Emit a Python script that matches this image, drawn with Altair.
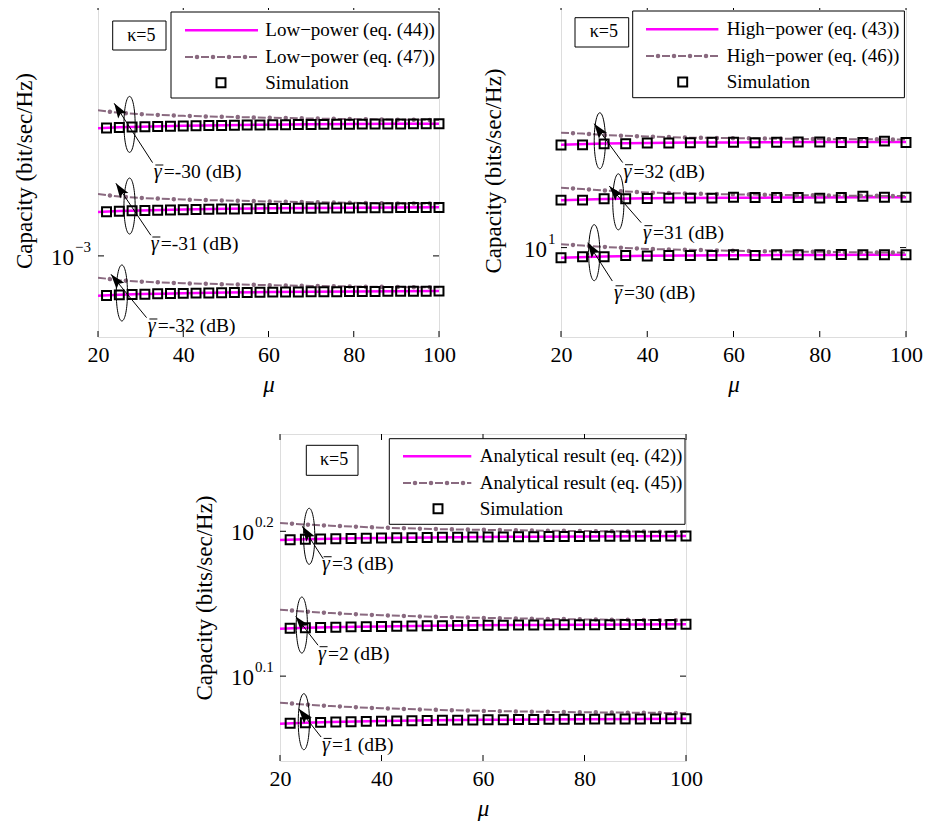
import altair as alt
import pandas as pd

FONT = "Liberation Serif"
MAG = "#ff00ff"
DD = "#8a6a80"

# ---------------- Panel 1: low-power regime (values in units of 1e-3 bit/sec/Hz) ----------------
p1_mu_line = [20, 25, 30, 35, 40, 50, 60, 70, 80, 90, 100]
p1_eq44_m30 = [1.4207, 1.4243, 1.4268, 1.4286, 1.4302, 1.4331, 1.4350, 1.4363, 1.4374, 1.4381, 1.4390]
p1_eq44_m31 = [1.1285, 1.1313, 1.1333, 1.1348, 1.1360, 1.1383, 1.1398, 1.1408, 1.1417, 1.1423, 1.1430]
p1_eq44_m32 = [0.8964, 0.8986, 0.9002, 0.9014, 0.9024, 0.9042, 0.9054, 0.9062, 0.9069, 0.9074, 0.9079]
p1_eq47_m30 = [1.4929, 1.4823, 1.4767, 1.4733, 1.4701, 1.4662, 1.4626, 1.4594, 1.4570, 1.4548, 1.4537]
p1_eq47_m31 = [1.1858, 1.1774, 1.1729, 1.1702, 1.1677, 1.1646, 1.1617, 1.1592, 1.1573, 1.1555, 1.1547]
p1_eq47_m32 = [0.9419, 0.9352, 0.9317, 0.9295, 0.9275, 0.9250, 0.9227, 0.9208, 0.9193, 0.9178, 0.9172]
p1_mu_sim = [22, 25, 28, 31, 34, 37, 40, 43, 46, 49, 52, 55, 58, 61, 64, 67, 70, 73, 76, 79, 82, 85, 88, 91, 94, 97, 100]
p1_sim_m30 = [1.4217, 1.4238, 1.4254, 1.4267, 1.4279, 1.4289, 1.4297, 1.4306, 1.4313, 1.4320, 1.4327, 1.4333, 1.4339, 1.4345,
              1.4349, 1.4353, 1.4358, 1.4361, 1.4365, 1.4368, 1.4371, 1.4374, 1.4375, 1.4378, 1.4381, 1.4382, 1.4385]
p1_sim_m31 = [1.1292, 1.1309, 1.1322, 1.1332, 1.1341, 1.1349, 1.1356, 1.1363, 1.1369, 1.1375, 1.1380, 1.1385, 1.1389, 1.1394,
              1.1397, 1.1401, 1.1404, 1.1407, 1.1410, 1.1412, 1.1415, 1.1417, 1.1418, 1.1420, 1.1423, 1.1424, 1.1426]
p1_sim_m32 = [0.8970, 0.8983, 0.8993, 0.9001, 0.9009, 0.9015, 0.9021, 0.9026, 0.9031, 0.9035, 0.9040, 0.9043, 0.9047, 0.9051,
              0.9053, 0.9056, 0.9059, 0.9061, 0.9063, 0.9065, 0.9067, 0.9069, 0.9070, 0.9071, 0.9073, 0.9074, 0.9076]
p1_unit = 1e-3

# ---------------- Panel 2: high-power regime (bits/sec/Hz) ----------------
p2_mu_line = [20, 30, 40, 50, 60, 70, 80, 90, 100]
p2_eq43_30 = [9.942, 9.949, 9.953, 9.955, 9.956, 9.957, 9.958, 9.9585, 9.959]
p2_eq43_31 = [10.276, 10.283, 10.287, 10.289, 10.290, 10.291, 10.292, 10.2925, 10.293]
p2_eq43_32 = [10.608, 10.615, 10.619, 10.621, 10.622, 10.623, 10.624, 10.6245, 10.625]
p2_mu_dd = [20, 25, 30, 40, 50, 60, 70, 80, 90, 100]
p2_eq46_30 = [10.019, 10.012, 10.004, 9.992, 9.987, 9.982, 9.978, 9.976, 9.973, 9.971]
p2_eq46_31 = [10.349, 10.342, 10.333, 10.321, 10.315, 10.310, 10.307, 10.304, 10.302, 10.300]
p2_eq46_32 = [10.681, 10.676, 10.667, 10.658, 10.651, 10.648, 10.645, 10.642, 10.641, 10.640]
p2_mu_sim = [20, 25, 30, 35, 40, 45, 50, 55, 60, 65, 70, 75, 80, 85, 90, 95, 100]
p2_sim_30 = [9.942, 9.948, 9.948, 9.955, 9.952, 9.955, 9.955, 9.955, 9.959, 9.955, 9.959, 9.959, 9.959, 9.961, 9.959, 9.959, 9.959]
p2_sim_31 = [10.276, 10.276, 10.284, 10.284, 10.286, 10.288, 10.288, 10.288, 10.293, 10.292, 10.292, 10.292, 10.288, 10.292,
             10.299, 10.293, 10.293]
p2_sim_32 = [10.606, 10.607, 10.613, 10.614, 10.619, 10.619, 10.620, 10.623, 10.623, 10.620, 10.623, 10.624, 10.624, 10.621,
             10.621, 10.630, 10.622]

# ---------------- Panel 3: analytical (bits/sec/Hz) ----------------
p3_mu_line = [20, 25, 30, 35, 40, 50, 60, 70, 80, 90, 100]
p3_eq42_3 = [1.5629, 1.5649, 1.5662, 1.5672, 1.5681, 1.5696, 1.5707, 1.5714, 1.5720, 1.5725, 1.5729]
p3_eq42_2 = [1.3575, 1.3594, 1.3606, 1.3616, 1.3624, 1.3639, 1.3649, 1.3656, 1.3661, 1.3666, 1.3670]
p3_eq42_1 = [1.1671, 1.1690, 1.1702, 1.1711, 1.1720, 1.1734, 1.1744, 1.1751, 1.1757, 1.1761, 1.1765]
p3_eq45_3 = [1.6059, 1.6020, 1.5990, 1.5964, 1.5941, 1.5906, 1.5885, 1.5868, 1.5855, 1.5843, 1.5831]
p3_eq45_2 = [1.3990, 1.3950, 1.3916, 1.3890, 1.3868, 1.3835, 1.3810, 1.3793, 1.3777, 1.3766, 1.3756]
p3_eq45_1 = [1.2067, 1.2033, 1.2004, 1.1981, 1.1962, 1.1933, 1.1912, 1.1897, 1.1886, 1.1878, 1.1870]
p3_mu_sim = [22, 25, 28, 31, 34, 37, 40, 43, 46, 49, 52, 55, 58, 61, 64, 67, 70, 73, 76, 79, 82, 85, 88, 91, 94, 97, 100]
p3_sim_3 = [1.5638, 1.5649, 1.5657, 1.5664, 1.5670, 1.5676, 1.5681, 1.5686, 1.5690, 1.5694, 1.5698, 1.5701, 1.5704, 1.5707,
            1.5709, 1.5712, 1.5714, 1.5716, 1.5718, 1.5719, 1.5721, 1.5722, 1.5724, 1.5725, 1.5726, 1.5728, 1.5729]
p3_sim_2 = [1.3584, 1.3594, 1.3602, 1.3608, 1.3614, 1.3620, 1.3624, 1.3629, 1.3633, 1.3637, 1.3641, 1.3643, 1.3646, 1.3649,
            1.3651, 1.3654, 1.3656, 1.3658, 1.3660, 1.3661, 1.3662, 1.3663, 1.3665, 1.3666, 1.3667, 1.3669, 1.3670]
p3_sim_1 = [1.1679, 1.1690, 1.1697, 1.1704, 1.1710, 1.1715, 1.1720, 1.1725, 1.1728, 1.1732, 1.1736, 1.1739, 1.1742, 1.1744,
            1.1746, 1.1749, 1.1751, 1.1753, 1.1755, 1.1756, 1.1757, 1.1758, 1.1760, 1.1761, 1.1762, 1.1764, 1.1765]

# ---------------- Annotations (data coordinates) ----------------
p1_ann_label = ["=-30 (dB)", "=-31 (dB)", "=-32 (dB)"]
p1_ell = ([27.4, 27.4, 25.6], [1.436, 1.147, 0.903])
p1_tip = ([23.8, 24.2, 23.05], [1.5218, 1.2211, 0.9506])
p1_tail = ([32.8, 32.4, 31.4], [1.2926, 1.0584, 0.8437])
p1_txt = ([33.1, 32.4, 31.7], [1.2597, 1.0333, 0.8246])
p1_ang = [327, 326, 321]

p2_ann_label = ["=32 (dB)", "=31 (dB)", "=30 (dB)"]
p2_ell = ([29.0, 33.3, 27.7], [10.632, 10.266, 9.971])
p2_tip = ([27.7, 31.2, 26.2], [10.737, 10.359, 10.028])
p2_tail = ([34.3, 38.6, 31.9], [10.500, 10.144, 9.810])
p2_txt = ([34.5, 39.0, 32.3], [10.445, 10.086, 9.744])
p2_ang = [324, 319, 327]

p3_ann_label = ["=3 (dB)", "=2 (dB)", "=1 (dB)"]
p3_ell = ([25.75, 24.3, 24.7], [1.5723, 1.3654, 1.1709])
p3_tip = ([24.4, 23.1, 23.7], [1.5974, 1.3843, 1.1952])
p3_tail = ([28.5, 27.5, 28.1], [1.5172, 1.3222, 1.1427])
p3_txt = ([28.3, 27.5, 28.3], [1.5052, 1.3046, 1.1276])
p3_ang = [327, 322, 322]

p1_legend = ["Low\u2212power (eq. (44))", "Low\u2212power (eq. (47))", "Simulation"]
p2_legend = ["High\u2212power (eq. (43))", "High\u2212power (eq. (46))", "Simulation"]
p3_legend = ["Analytical result (eq. (42))", "Analytical result (eq. (45))", "Simulation"]

x_ticks = [20, 40, 60, 80, 100]

ELLIPSE = "M 0 -1 A 0.2 1 0 1 1 0 1 A 0.2 1 0 1 1 0 -1 Z"
ARROW = "M 0 0 L 0.5 1.5 L 0 1.2 L -0.5 1.5 Z"


def scaled(vals, f):
    return [v * f for v in vals]


def panel(cfg):
    W, H = cfg["W"], cfg["H"]
    ydom = cfg["ydomain"]
    ytitle = cfg["ytitle"]

    def X(field):
        return alt.X(f"{field}:Q", title="\u03bc",
                     scale=alt.Scale(domain=[20, 100], nice=False, zero=False),
                     axis=alt.Axis(values=x_ticks, ticks=False, domain=False, grid=False, format="d",
                                   labelFont=FONT, labelFontSize=22, labelPadding=7, labelColor="black",
                                   labelFlush=False,
                                   titleFont=FONT, titleFontSize=23, titleFontStyle="italic",
                                   titleFontWeight="normal", titlePadding=8, titleColor="black"))

    def Y(field):
        return alt.Y(f"{field}:Q", title=ytitle,
                     scale=alt.Scale(type="log", domain=ydom, nice=False, zero=False),
                     axis=alt.Axis(labels=False, ticks=False, domain=False, grid=False,
                                   titleFont=FONT, titleFontSize=23, titleFontWeight="normal",
                                   titleColor="black", titlePadding=cfg["tpad"]))

    def X2(field):
        return alt.X2(f"{field}:Q")

    def Y2(field):
        return alt.Y2(f"{field}:Q")

    u = cfg["unit"]
    rows = []
    for kind, mus, series in cfg["lines"]:
        for g, vals in series.items():
            for m, v in zip(mus, vals):
                rows.append({"mu": m, "C": v * u, "g": f"{kind}{g}", "kind": kind})
    df = pd.DataFrame(rows)

    solid = alt.Chart(df[df.kind == "solid"]).mark_line(color=MAG, strokeWidth=2.5, clip=True).encode(
        x=X("mu"), y=Y("C"), detail="g:N")
    dd_dash = alt.Chart(df[df.kind == "dd"]).mark_line(color=DD, strokeWidth=2, strokeDash=[8, 8], clip=True).encode(
        x=X("mu"), y=Y("C"), detail="g:N")
    dd_dot = alt.Chart(df[df.kind == "dd"]).mark_line(color=DD, strokeWidth=4.5, strokeDash=[0.01, 15.99],
                                                        strokeDashOffset=4, strokeCap="round", clip=True).encode(
        x=X("mu"), y=Y("C"), detail="g:N")

    srows = []
    for g, vals in cfg["sims"].items():
        for m, v in zip(cfg["mu_sim"], vals):
            srows.append({"mu": m, "C": v * u, "g": g})
    sdf = pd.DataFrame(srows)
    sims = alt.Chart(sdf).mark_point(shape="square", filled=False, size=80, color="black", strokeWidth=2,
                                     opacity=1).encode(x=X("mu"), y=Y("C"))

    # annotations
    a = cfg["ann"]
    adf = pd.DataFrame({
        "label": a["label"],
        "emu": a["ell"][0], "eC": scaled(a["ell"][1], u),
        "tmu": a["tip"][0], "tC": scaled(a["tip"][1], u),
        "lmu": a["tail"][0], "lC": scaled(a["tail"][1], u),
        "xmu": a["txt"][0], "xC": scaled(a["txt"][1], u),
        "ang": a["ang"],
    })
    ell = alt.Chart(adf).mark_point(shape=ELLIPSE, size=3136, filled=False, color="black", strokeWidth=1,
                                    opacity=1).encode(x=X("emu"), y=Y("eC"))
    shaft = alt.Chart(adf).mark_rule(color="black", strokeWidth=1).encode(
        x=X("tmu"), y=Y("tC"), x2=X2("lmu"), y2=Y2("lC"))
    head = alt.Chart(adf).mark_point(shape=ARROW, size=400, filled=True, color="black", opacity=1,
                                     strokeWidth=0).encode(x=X("tmu"), y=Y("tC"), angle=alt.Angle("ang:Q", scale=None))
    gam = alt.Chart(adf).mark_text(font=FONT, fontSize=20, fontStyle="italic", align="left", baseline="middle",
                                   color="black", text="\u03b3").encode(x=X("xmu"), y=Y("xC"))
    bar = alt.Chart(adf).mark_tick(orient="horizontal", size=8, thickness=1, color="black", opacity=1,
                                   xOffset=5.5, yOffset=-7).encode(x=X("xmu"), y=Y("xC"))
    txt = alt.Chart(adf).mark_text(font=FONT, fontSize=19.5, align="left", baseline="middle", color="black",
                                   dx=10).encode(x=X("xmu"), y=Y("xC"), text="label:N")

    # ticks (inside, all four sides)
    tdf = pd.DataFrame({"t": x_ticks})
    xt_b = alt.Chart(tdf).mark_rule(color="black", strokeWidth=1).encode(
        x=X("t"), y=alt.value(H), y2=alt.value(H - 6))
    xt_t = alt.Chart(tdf).mark_rule(color="black", strokeWidth=1).encode(
        x=X("t"), y=alt.value(0), y2=alt.value(6))
    ydf = pd.DataFrame({"v": cfg["yticks"], "e": cfg["yexps"]})
    yt_l = alt.Chart(ydf).mark_rule(color="black", strokeWidth=1).encode(
        y=Y("v"), x=alt.value(0), x2=alt.value(6))
    yt_r = alt.Chart(ydf).mark_rule(color="black", strokeWidth=1).encode(
        y=Y("v"), x=alt.value(W - 6), x2=alt.value(W))
    ylab_base = alt.Chart(ydf).mark_text(font=FONT, fontSize=23, align="right", baseline="middle", dy=2,
                                         color="black").encode(
        y=Y("v"), x=alt.value(cfg["ylab_x"]), text=alt.value("10"))
    ylab_exp = alt.Chart(ydf).mark_text(font=FONT, fontSize=15, align="left", baseline="middle", dy=-9,
                                        color="black").encode(
        y=Y("v"), x=alt.value(cfg["ylab_x"] + 1), text="e:N")

    # legend box (drawn in pixel space)
    lg = cfg["leg"]
    one = pd.DataFrame({"k": [0]})
    layers = []
    layers.append(alt.Chart(one).mark_rect(fill="white", stroke="black", strokeWidth=1).encode(
        x=alt.value(lg["box"][0]), x2=alt.value(lg["box"][1]), y=alt.value(lg["box"][2]), y2=alt.value(lg["box"][3])))
    r1, r2, r3 = lg["rows"]
    layers.append(alt.Chart(one).mark_rule(color=MAG, strokeWidth=2.5).encode(
        x=alt.value(lg["line"][0]), x2=alt.value(lg["line"][1]), y=alt.value(r1)))
    layers.append(alt.Chart(one).mark_rule(color=DD, strokeWidth=2, strokeDash=[8, 8]).encode(
        x=alt.value(lg["line"][0]), x2=alt.value(lg["line"][1]), y=alt.value(r2)))
    layers.append(alt.Chart(one).mark_rule(color=DD, strokeWidth=4.5, strokeDash=[0.01, 15.99], strokeDashOffset=4,
                                           strokeCap="round").encode(
        x=alt.value(lg["line"][0]), x2=alt.value(lg["line"][1]), y=alt.value(r2)))
    layers.append(alt.Chart(one).mark_point(shape="square", filled=False, size=80, color="black", strokeWidth=2,
                                            opacity=1).encode(x=alt.value(lg["sq"]), y=alt.value(r3)))
    for lab, r in zip(cfg["legend_labels"], lg["rows"]):
        layers.append(alt.Chart(one).mark_text(font=FONT, fontSize=19, align="left", baseline="middle",
                                               color="black", text=lab).encode(
            x=alt.value(lg["text"]), y=alt.value(r)))
    kb = lg["kappa"]
    layers.append(alt.Chart(one).mark_rect(fill="white", stroke="black", strokeWidth=1).encode(
        x=alt.value(kb[0]), x2=alt.value(kb[1]), y=alt.value(kb[2]), y2=alt.value(kb[3])))
    layers.append(alt.Chart(one).mark_text(font=FONT, fontSize=18, align="center", baseline="middle",
                                           color="black", text="\u03ba=5").encode(
        x=alt.value((kb[0] + kb[1]) / 2 + 2), y=alt.value((kb[2] + kb[3]) / 2)))

    chart = alt.layer(solid, dd_dash, dd_dot, sims, ell, shaft, head, gam, bar, txt,
                      xt_b, xt_t, yt_l, yt_r, ylab_base, ylab_exp, *layers).properties(width=W, height=H)
    return chart


cfg1 = dict(
    W=341, H=333, unit=p1_unit, ydomain=[0.0008, 0.002], ytitle="Capacity (bit/sec/Hz)", tpad=62,
    lines=[("solid", p1_mu_line, {"-30": p1_eq44_m30, "-31": p1_eq44_m31, "-32": p1_eq44_m32}),
           ("dd", p1_mu_line, {"-30": p1_eq47_m30, "-31": p1_eq47_m31, "-32": p1_eq47_m32})],
    mu_sim=p1_mu_sim, sims={"-30": p1_sim_m30, "-31": p1_sim_m31, "-32": p1_sim_m32},
    ann=dict(label=p1_ann_label, ell=p1_ell, tip=p1_tip, tail=p1_tail, txt=p1_txt, ang=p1_ang),
    yticks=[0.001], yexps=["\u22123"], ylab_x=-24,
    leg=dict(box=[73, 341, 8, 94], rows=[26.3, 53, 78.7], line=[87, 160], sq=123, text=167.3,
             kappa=[14.7, 68, 17, 46]),
    legend_labels=p1_legend,
)
cfg2 = dict(
    W=345, H=333, unit=1.0, ydomain=[9.5, 11.5], ytitle="Capacity (bits/sec/Hz)", tpad=56,
    lines=[("solid", p2_mu_line, {"30": p2_eq43_30, "31": p2_eq43_31, "32": p2_eq43_32}),
           ("dd", p2_mu_dd, {"30": p2_eq46_30, "31": p2_eq46_31, "32": p2_eq46_32})],
    mu_sim=p2_mu_sim, sims={"30": p2_sim_30, "31": p2_sim_31, "32": p2_sim_32},
    ann=dict(label=p2_ann_label, ell=p2_ell, tip=p2_tip, tail=p2_tail, txt=p2_txt, ang=p2_ang),
    yticks=[10.0], yexps=["1"], ylab_x=-14,
    leg=dict(box=[71.7, 343.4, 7, 93.7], rows=[25.3, 52, 78], line=[85, 157.4], sq=121.7, text=165.7,
             kappa=[14, 67.7, 13.7, 43]),
    legend_labels=p2_legend,
)
cfg3 = dict(
    W=406, H=327, unit=1.0, ydomain=[1.1, 1.85], ytitle="Capacity (bits/sec/Hz)", tpad=64,
    lines=[("solid", p3_mu_line, {"3": p3_eq42_3, "2": p3_eq42_2, "1": p3_eq42_1}),
           ("dd", p3_mu_line, {"3": p3_eq45_3, "2": p3_eq45_2, "1": p3_eq45_1})],
    mu_sim=p3_mu_sim, sims={"3": p3_sim_3, "2": p3_sim_2, "1": p3_sim_1},
    ann=dict(label=p3_ann_label, ell=p3_ell, tip=p3_tip, tail=p3_tail, txt=p3_txt, ang=p3_ang),
    yticks=[1.2589, 1.5849], yexps=["0.1", "0.2"], ylab_x=-26,
    leg=dict(box=[109.3, 405, 4.7, 90.3], rows=[22.3, 49, 74.7], line=[123, 191.3], sq=158, text=199.7,
             kappa=[26.3, 78, 11.3, 41.3]),
    legend_labels=p3_legend,
)

p1 = panel(cfg1)
p2 = panel(cfg2)
p3 = panel(cfg3)

spacer = alt.Chart(pd.DataFrame({"k": [0]})).mark_point(opacity=0, size=1).encode(
    x=alt.value(0), y=alt.value(0)).properties(width=93, height=10, view=alt.ViewBackground(stroke="transparent"))

chart = alt.vconcat(alt.hconcat(p1, p2, spacing=25), alt.hconcat(spacer, p3, spacing=0), spacing=36).properties(
    padding={"left": 4, "top": -5, "right": 0, "bottom": 0}
).configure_view(stroke="black", strokeWidth=1).configure(font=FONT)

chart.save("out.html", embed_options={"renderer": "svg", "actions": False})
